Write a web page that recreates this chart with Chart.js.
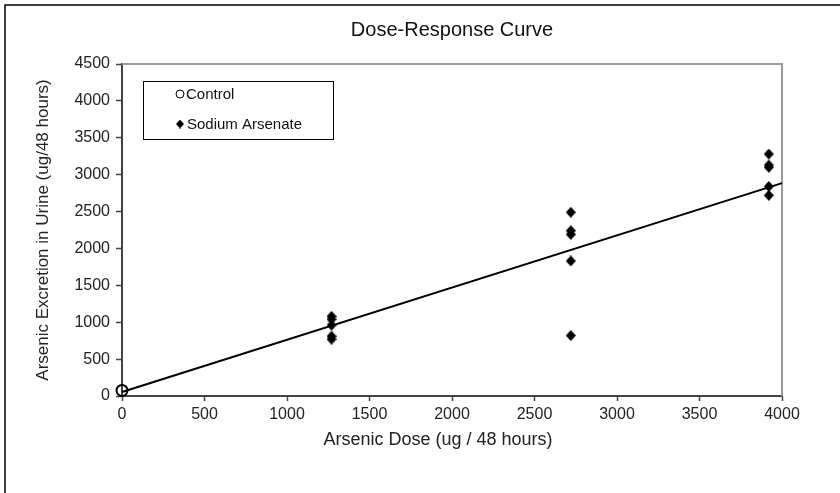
<!DOCTYPE html>
<html>
<head>
    <title>Dose-Response Curve</title>
    <script src="https://cdn.jsdelivr.net/npm/chart.js"></script>
    <style>
        body { margin: 0; background: #fff; }
    </style>
</head>
<body>
    <canvas id="doseChart" width="840" height="493"></canvas>

    <script>
        // Data
        var controlDose = [0];
        var controlExcretion = [75];

        var arsenateDose = [1270, 1270, 1270, 1270, 1270,
                            2720, 2720, 2720, 2720, 2720,
                            3920, 3920, 3920, 3920, 3920];
        var arsenateExcretion = [1080, 1040, 960, 810, 770,
                                 2490, 2240, 2190, 1830, 820,
                                 3280, 3130, 3100, 2840, 2720];

        // regression line end points
        var fitDose = [0, 4000];
        var fitExcretion = [55, 2885];

        var xTicks = [0, 500, 1000, 1500, 2000, 2500, 3000, 3500, 4000];
        var yTicks = [0, 500, 1000, 1500, 2000, 2500, 3000, 3500, 4000, 4500];

        var FONT = '"Liberation Sans", Arial, sans-serif';

        function toPoints(xs, ys) {
            return xs.map(function (x, i) { return { x: x, y: ys[i] }; });
        }

        // filled diamond a little taller than wide
        function makeDiamond(w, h) {
            var c = document.createElement('canvas');
            c.width = w;
            c.height = h;
            var g = c.getContext('2d');
            g.fillStyle = '#000';
            g.beginPath();
            g.moveTo(w / 2, 0);
            g.lineTo(w, h / 2);
            g.lineTo(w / 2, h);
            g.lineTo(0, h / 2);
            g.closePath();
            g.fill();
            return c;
        }
        var diamond = makeDiamond(10, 11);

        // frame, titles and legend box
        var decorations = {
            id: 'decorations',
            beforeDatasetsDraw: function (chart) {
                var ctx = chart.ctx;
                var a = chart.chartArea;
                ctx.save();
                ctx.strokeStyle = '#999';
                ctx.lineWidth = 2;
                ctx.beginPath();
                ctx.moveTo(a.left, a.top);
                ctx.lineTo(a.right, a.top);
                ctx.lineTo(a.right, a.bottom);
                ctx.stroke();
                ctx.restore();
            },
            afterDraw: function (chart) {
                var ctx = chart.ctx;
                var a = chart.chartArea;
                var cx = (a.left + a.right) / 2;
                ctx.save();

                // outer border
                ctx.strokeStyle = '#000';
                ctx.lineWidth = 1.5;
                ctx.beginPath();
                ctx.moveTo(5, 493);
                ctx.lineTo(5, 5);
                ctx.lineTo(840, 5);
                ctx.stroke();

                ctx.fillStyle = '#111';
                ctx.textAlign = 'center';
                ctx.textBaseline = 'middle';

                ctx.font = '20px ' + FONT;
                ctx.fillText('Dose-Response Curve', cx, 30);

                ctx.font = '18px ' + FONT;
                ctx.fillStyle = '#222';
                ctx.fillText('Arsenic Dose (ug / 48 hours)', cx - 14, 440);

                ctx.save();
                ctx.font = '17px ' + FONT;
                ctx.translate(43, (a.top + a.bottom) / 2);
                ctx.rotate(-Math.PI / 2);
                ctx.fillText('Arsenic Excretion in Urine (ug/48 hours)', 0, 0);
                ctx.restore();

                // legend
                ctx.strokeStyle = '#000';
                ctx.lineWidth = 1;
                ctx.strokeRect(143.5, 81.5, 190, 58);

                ctx.beginPath();
                ctx.arc(180, 94, 4, 0, Math.PI * 2);
                ctx.lineWidth = 1;
                ctx.stroke();

                ctx.drawImage(makeDiamond(8, 9), 176, 119.5);

                ctx.font = '15px ' + FONT;
                ctx.textAlign = 'left';
                ctx.fillStyle = '#111';
                ctx.fillText('Control', 186, 95);
                ctx.fillText('Sodium Arsenate', 187, 125);

                ctx.restore();
            }
        };

        var canvas = document.getElementById('doseChart');

        var chart = new Chart(canvas, {
            type: 'scatter',
            data: {
                datasets: [
                    {
                        label: 'Control',
                        data: toPoints(controlDose, controlExcretion),
                        pointStyle: 'circle',
                        pointRadius: 5.5,
                        borderWidth: 2,
                        borderColor: '#000',
                        backgroundColor: 'rgba(0,0,0,0)',
                        clip: false
                    },
                    {
                        label: 'Sodium Arsenate',
                        data: toPoints(arsenateDose, arsenateExcretion),
                        pointStyle: diamond,
                        clip: false
                    },
                    {
                        label: 'Fit',
                        type: 'line',
                        data: toPoints(fitDose, fitExcretion),
                        borderColor: '#000',
                        borderWidth: 2,
                        pointRadius: 0,
                        fill: false,
                        clip: false
                    }
                ]
            },
            options: {
                responsive: false,
                animation: false,
                events: [],
                layout: {
                    padding: { left: 0, right: 58, top: 64, bottom: 0 }
                },
                plugins: {
                    legend: { display: false },
                    title: { display: false },
                    tooltip: { enabled: false }
                },
                scales: {
                    x: {
                        type: 'linear',
                        min: 0,
                        max: 4000,
                        afterFit: function (scale) { scale.height = 97; },
                        afterBuildTicks: function (scale) {
                            scale.ticks = xTicks.map(function (v) { return { value: v }; });
                        },
                        border: { display: true, color: '#444', width: 2 },
                        grid: {
                            drawOnChartArea: false,
                            drawTicks: true,
                            tickLength: 5,
                            tickWidth: 1.5,
                            color: '#444'
                        },
                        ticks: {
                            color: '#222',
                            padding: 4,
                            maxRotation: 0,
                            font: { family: FONT, size: 16 },
                            callback: function (v) { return String(v); }
                        }
                    },
                    y: {
                        type: 'linear',
                        min: 0,
                        max: 4500,
                        afterFit: function (scale) { scale.width = 122; },
                        afterBuildTicks: function (scale) {
                            scale.ticks = yTicks.map(function (v) { return { value: v }; });
                        },
                        border: { display: true, color: '#444', width: 2 },
                        grid: {
                            drawOnChartArea: false,
                            drawTicks: true,
                            tickLength: 6,
                            tickWidth: 1.5,
                            color: '#444'
                        },
                        ticks: {
                            color: '#222',
                            padding: 6,
                            font: { family: FONT, size: 16 },
                            callback: function (v) { return String(v); }
                        }
                    }
                }
            },
            plugins: [decorations]
        });
    </script>
</body>
</html>
